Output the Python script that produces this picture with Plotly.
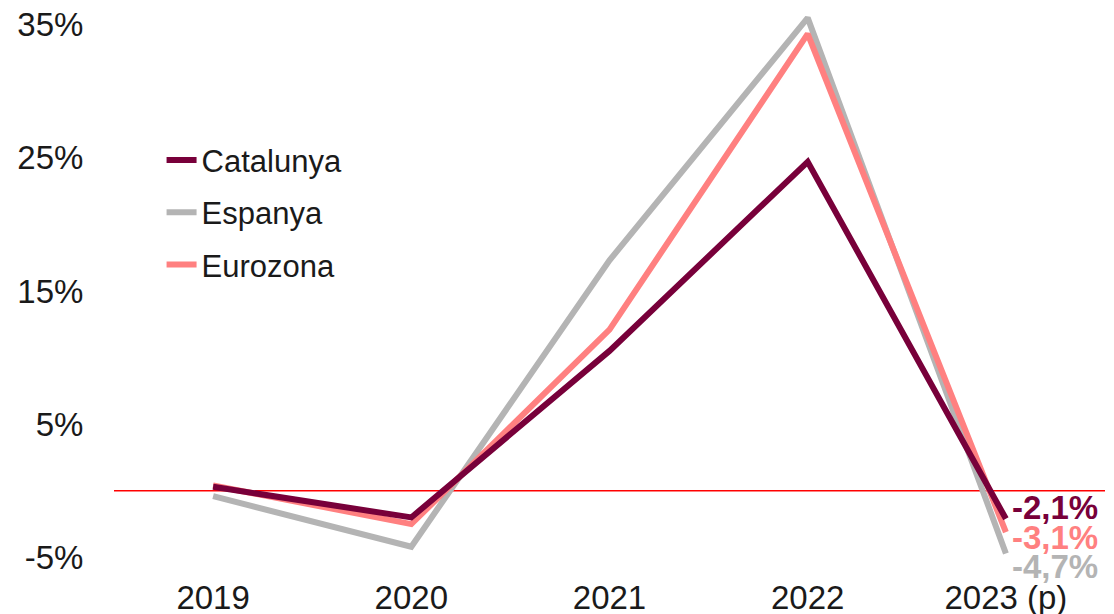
import plotly.graph_objects as go

# Data (year-on-year change, %)
years = ['2019', '2020', '2021', '2022', '2023 (p)']
catalunya = [0.3, -2.0, 10.5, 24.7, -2.1]
espanya = [-0.4, -4.2, 17.3, 35.5, -4.7]
eurozona = [0.4, -2.5, 12.1, 34.3, -3.1]

y_ticks = [-5, 5, 15, 25, 35]
y_tick_labels = ['-5%', '5%', '15%', '25%', '35%']

series = [
    ('Catalunya', catalunya, '#78003a'),
    ('Espanya', espanya, '#b4b4b4'),
    ('Eurozona', eurozona, '#ff8080'),
]
# vertical nudges so the end labels don't overlap
label_shift = {'Catalunya': 11, 'Espanya': -13, 'Eurozona': -5}

font_family = 'Arial, Liberation Sans, sans-serif'

fig = go.Figure()

# drawing order: gray at the back, then pink, then maroon
for name, vals, color in [series[1], series[2], series[0]]:
    fig.add_trace(go.Scatter(
        x=years, y=vals, mode='lines', name=name,
        line=dict(color=color, width=6),
        legendgroup=name, legendrank={'Catalunya': 1, 'Espanya': 2, 'Eurozona': 3}[name],
    ))

# zero line
fig.add_hline(y=0, line=dict(color='#ff0000', width=1.5), layer='below')

# value labels at the last point
for name, vals, color in series:
    fig.add_annotation(
        x=years[-1], y=vals[-1],
        text='<b>' + f'{vals[-1]:.1f}'.replace('.', ',') + '%</b>',
        showarrow=False, xanchor='left', yanchor='middle',
        xshift=4, yshift=label_shift[name],
        font=dict(family=font_family, size=33, color=color),
    )

# page body adds an 8px offset, margins account for it
fig.update_layout(
    width=1114, height=614,
    margin=dict(l=106, r=17, t=0, b=47, autoexpand=False),
    plot_bgcolor='white', paper_bgcolor='white',
    font=dict(family=font_family, size=33, color='#1a1a1a'),
    showlegend=True,
    legend=dict(
        x=0.048, y=0.779, xanchor='left', yanchor='top',
        font=dict(size=31, color='#1a1a1a'),
        bgcolor='rgba(0,0,0,0)', tracegroupgap=9,
    ),
)

fig.update_xaxes(
    type='category', range=[-0.5, 4.5], automargin=False,
    showgrid=False, showline=False, zeroline=False,
    ticks='', tickfont=dict(size=33), ticklabeloverflow='allow',
)
fig.update_yaxes(
    range=[-6.32, 36.24], automargin=False,
    tickvals=y_ticks, ticktext=y_tick_labels,
    showgrid=False, showline=False, zeroline=False,
    ticks='outside', ticklen=23, tickcolor='rgba(0,0,0,0)',
    tickfont=dict(size=33), ticklabeloverflow='allow',
)

fig.write_html('out.html')
